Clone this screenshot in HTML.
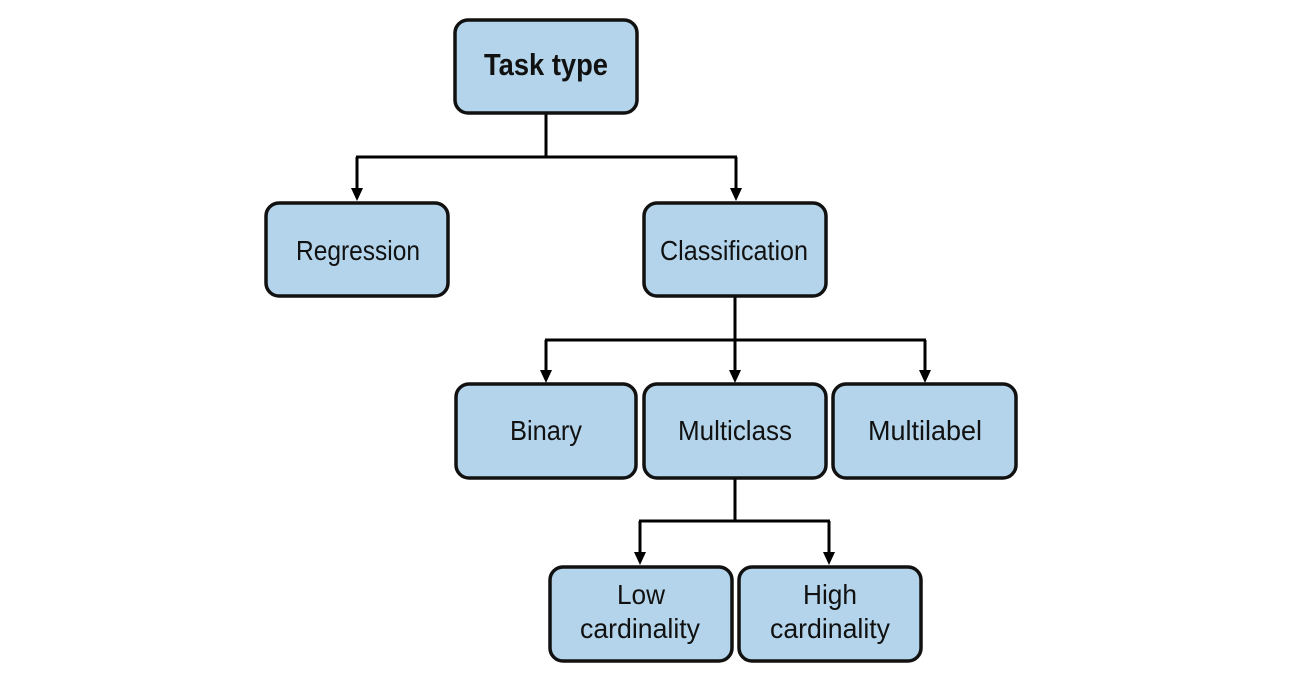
<!DOCTYPE html>
<html><head><style>html,body{margin:0;padding:0;background:#fff;}</style></head>
<body>
<svg width="1296" height="678" viewBox="0 0 1296 678" xmlns="http://www.w3.org/2000/svg" font-family="'Liberation Sans Narrow','Liberation Sans',sans-serif">
<g fill="none" stroke="#000" stroke-width="3">
<path d="M546,114 V157 M356,157 H737"/>
<path d="M357,157 V192 M736,157 V192"/>
<path d="M735,297 V374 M545,340 H926 M546,340 V374 M925,340 V374"/>
<path d="M735,479 V521 M639,521 H830 M640,521 V556 M829,521 V556"/>
</g>
<g fill="#000">
<polygon points="351,188 363,188 357,201"/>
<polygon points="730,188 742,188 736,201"/>
<polygon points="540,370 552,370 546,383"/>
<polygon points="729,370 741,370 735,383"/>
<polygon points="919,370 931,370 925,383"/>
<polygon points="634,552 646,552 640,565"/>
<polygon points="823,552 835,552 829,565"/>
</g>
<g fill="#b3d4ea" stroke="#111" stroke-width="3.5">
<rect x="455" y="20" width="182" height="93" rx="13"/>
<rect x="266" y="203" width="182" height="93" rx="13"/>
<rect x="644" y="203" width="182" height="93" rx="13"/>
<rect x="456" y="384" width="180" height="94" rx="13"/>
<rect x="644" y="384" width="182" height="94" rx="13"/>
<rect x="833" y="384" width="183" height="94" rx="13"/>
<rect x="550" y="567" width="182" height="94" rx="13"/>
<rect x="739" y="567" width="182" height="94" rx="13"/>
</g>
<g fill="#111" font-size="28">
<text x="484" y="75" font-size="31" font-weight="bold" textLength="124" lengthAdjust="spacingAndGlyphs">Task type</text>
<text x="296" y="260" textLength="124" lengthAdjust="spacingAndGlyphs">Regression</text>
<text x="660" y="260" textLength="148" lengthAdjust="spacingAndGlyphs">Classification</text>
<text x="510" y="440" textLength="72" lengthAdjust="spacingAndGlyphs">Binary</text>
<text x="678" y="440" textLength="114" lengthAdjust="spacingAndGlyphs">Multiclass</text>
<text x="868" y="440" textLength="114" lengthAdjust="spacingAndGlyphs">Multilabel</text>
<text x="617" y="604" textLength="48" lengthAdjust="spacingAndGlyphs">Low</text>
<text x="580" y="638" textLength="120" lengthAdjust="spacingAndGlyphs">cardinality</text>
<text x="803" y="604" textLength="54" lengthAdjust="spacingAndGlyphs">High</text>
<text x="770" y="638" textLength="120" lengthAdjust="spacingAndGlyphs">cardinality</text>
</g>
</svg>
</body></html>
